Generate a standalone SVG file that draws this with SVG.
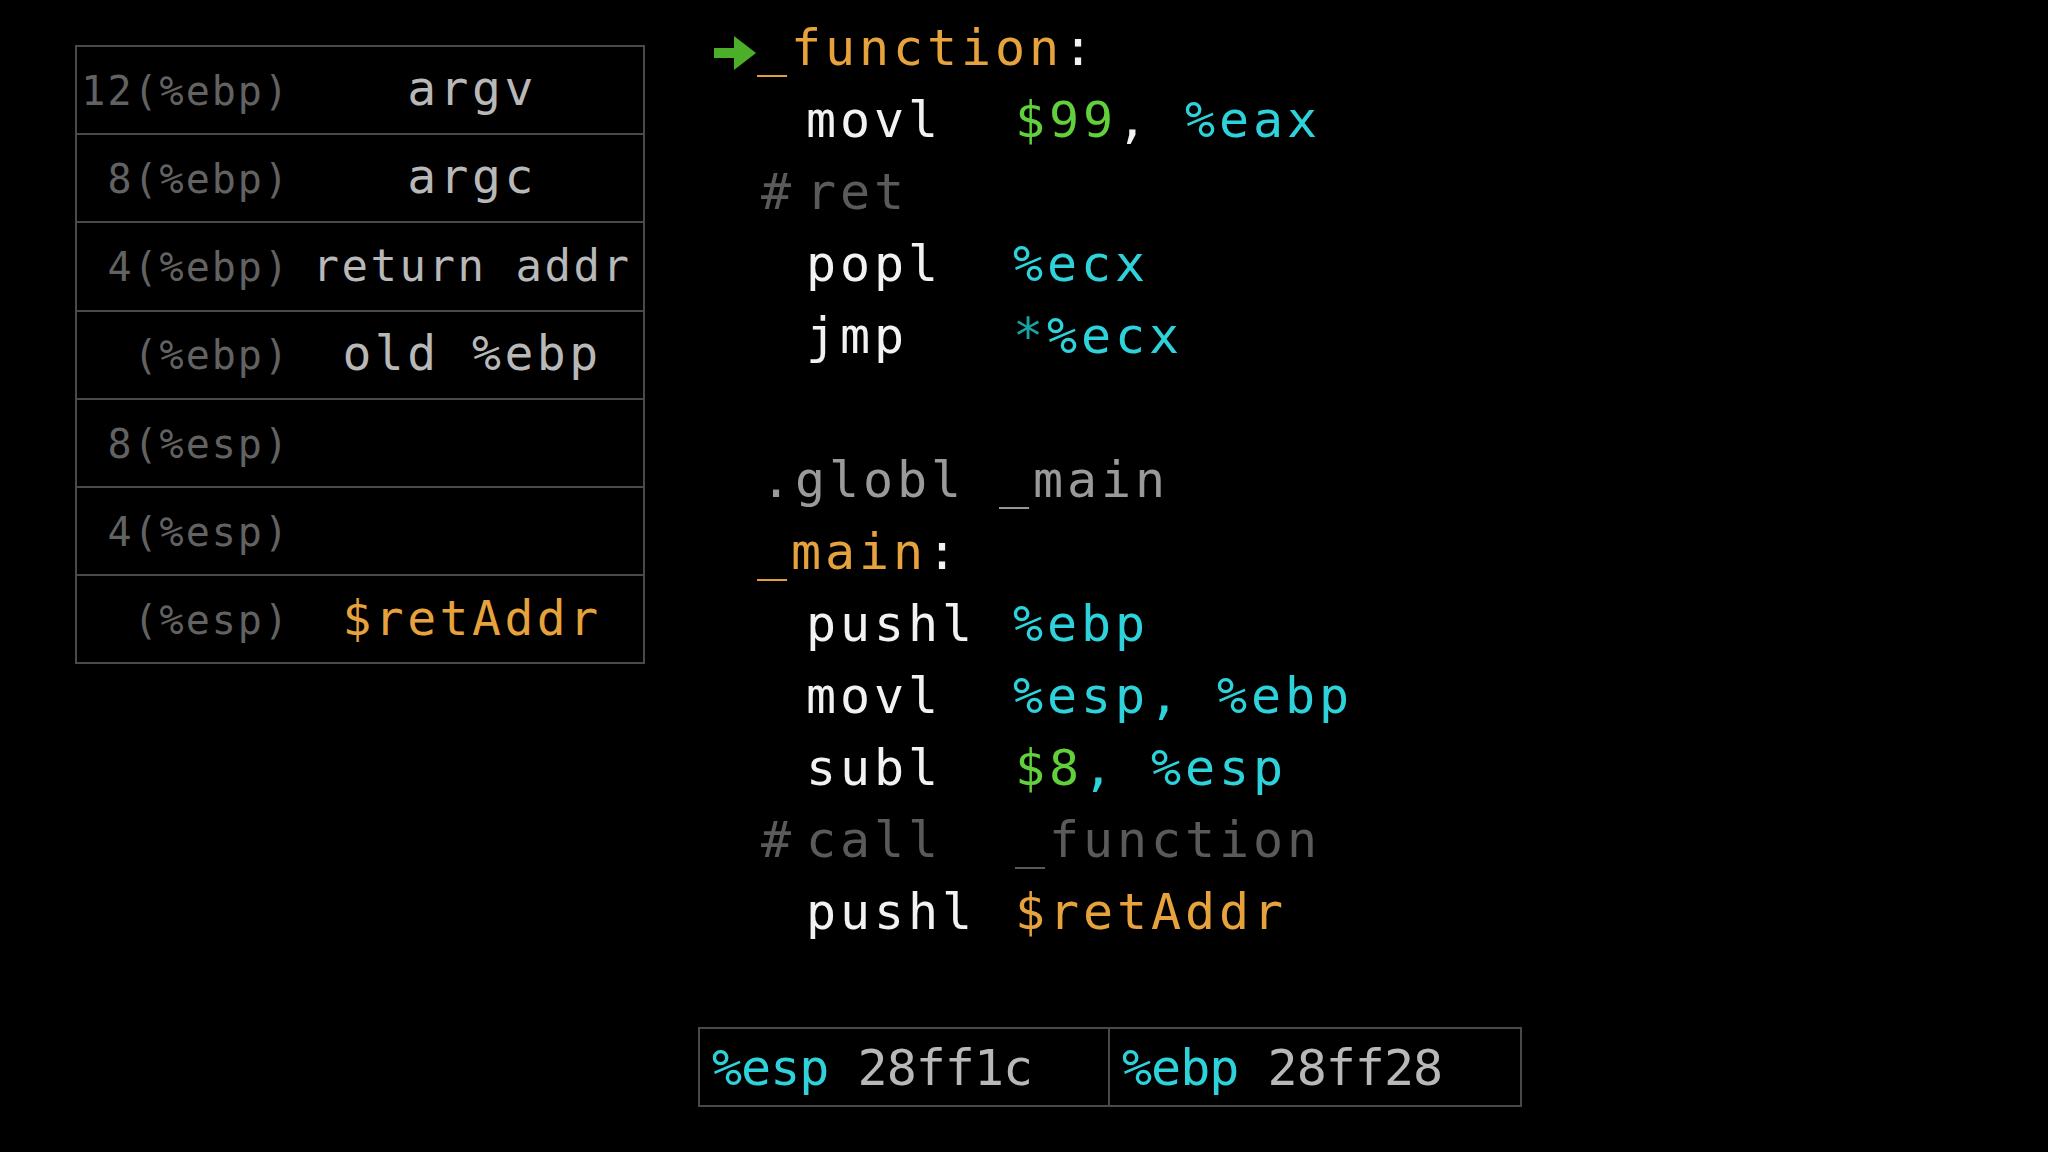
<svg xmlns="http://www.w3.org/2000/svg" width="2048" height="1152" viewBox="0 0 2048 1152">
<style>
text{font-family:"DejaVu Sans Mono","Liberation Mono",monospace}
.lbl{font-size:40px;letter-spacing:2px;fill:#626262;text-anchor:end}
.val{font-size:48px;letter-spacing:3.5px;fill:#b8b8b8;text-anchor:middle}
.code{font-size:50px;letter-spacing:3.9px;fill:#f2f2f2}
.reg{font-size:50px;letter-spacing:-1px;fill:#f2f2f2}
.or{fill:#e6a23c}.gr{fill:#62cf3c}.cy{fill:#2dd2da}.cm{fill:#5a5a5a}.dim{fill:#9a9a9a}.tl{fill:#17a3a3}.gy{fill:#b8b8b8}
.cell{fill:#000;stroke:#4a4a4a;stroke-width:2}
</style>
<rect width="2048" height="1152" fill="#000"/>
<g id="stack">
<rect class="cell" x="76" y="46" width="568" height="617"/>
<g stroke="#4a4a4a" stroke-width="2"><line x1="76" y1="134" x2="644" y2="134"/><line x1="76" y1="222" x2="644" y2="222"/><line x1="76" y1="311" x2="644" y2="311"/><line x1="76" y1="399" x2="644" y2="399"/><line x1="76" y1="487" x2="644" y2="487"/><line x1="76" y1="575" x2="644" y2="575"/></g>
<text class="lbl" x="290" y="105">12(%ebp)</text><text class="val" x="472" y="105">argv</text>
<text class="lbl" x="290" y="193">8(%ebp)</text><text class="val" x="472" y="193">argc</text>
<text class="lbl" x="290" y="281">4(%ebp)</text><text class="val" x="472" y="281" style="font-size:44px;letter-spacing:2.5px">return addr</text>
<text class="lbl" x="290" y="369">(%ebp)</text><text class="val" x="472" y="370">old %ebp</text>
<text class="lbl" x="290" y="458">8(%esp)</text>
<text class="lbl" x="290" y="546">4(%esp)</text>
<text class="lbl" x="290" y="634">(%esp)</text><text class="val or" x="472" y="635">$retAddr</text>
</g>
<g id="code">
<path d="M714 48 h20 v-12 l22 17 l-22 17 v-12 h-20 z" fill="#4caf2a"/>
<text class="code" x="757" y="65"><tspan class="or">_function</tspan>:</text>
<text class="code" x="806" y="137">movl</text><text class="code" x="1015" y="137"><tspan class="gr">$99</tspan>, <tspan class="cy">%eax</tspan></text>
<text class="code cm" x="761" y="209">#</text><text class="code cm" x="806" y="209">ret</text>
<text class="code" x="806" y="281">popl</text><text class="code cy" x="1013" y="281">%ecx</text>
<text class="code" x="806" y="353">jmp</text><text class="code" x="1013" y="353"><tspan class="tl">*</tspan><tspan class="cy">%ecx</tspan></text>
<text class="code dim" x="761" y="497">.globl _main</text>
<text class="code" x="757" y="569"><tspan class="or">_main</tspan>:</text>
<text class="code" x="806" y="641">pushl</text><text class="code cy" x="1013" y="641">%ebp</text>
<text class="code" x="806" y="713">movl</text><text class="code cy" x="1013" y="713">%esp, %ebp</text>
<text class="code" x="806" y="785">subl</text><text class="code" x="1015" y="785"><tspan class="gr">$8</tspan><tspan class="cy">, %esp</tspan></text>
<text class="code cm" x="761" y="857">#</text><text class="code cm" x="806" y="857">call</text><text class="code cm" x="1015" y="857">_function</text>
<text class="code" x="806" y="929">pushl</text><text class="code or" x="1015" y="929">$retAddr</text>
</g>
<g id="registers">
<rect class="cell" x="699" y="1028" width="822" height="78"/>
<line x1="1109" y1="1028" x2="1109" y2="1106" stroke="#4a4a4a" stroke-width="2"/>
<text class="reg" x="712" y="1085"><tspan class="cy">%esp</tspan> <tspan class="gy">28ff1c</tspan></text>
<text class="reg" x="1122" y="1085"><tspan class="cy">%ebp</tspan> <tspan class="gy">28ff28</tspan></text>
</g>
</svg>
